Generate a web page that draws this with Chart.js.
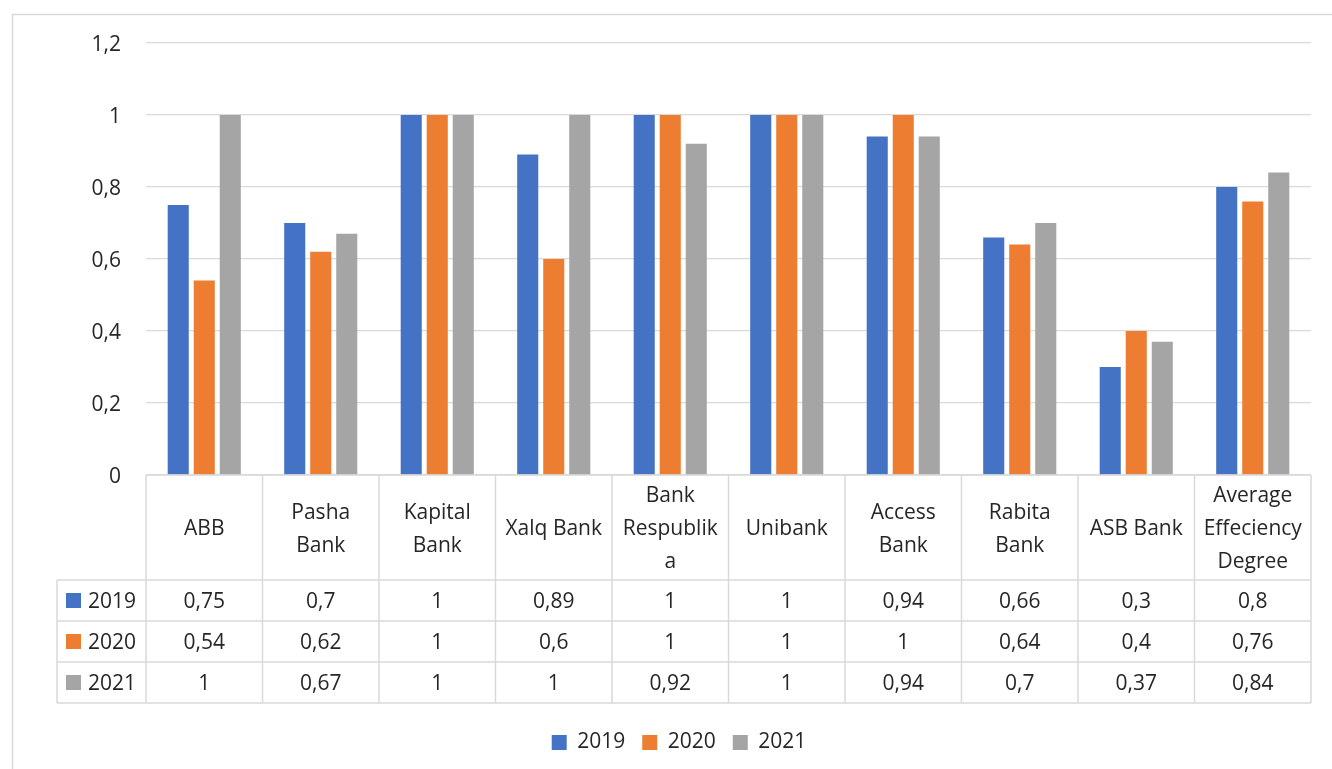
<!DOCTYPE html>
<html>
<head>
<meta charset="utf-8">
<script src="https://cdn.jsdelivr.net/npm/chart.js@4.4.1/dist/chart.umd.min.js"></script>
<style>
  html, body { margin: 0; padding: 0; background: #fff; }
  canvas { display: block; }
</style>
</head>
<body>
<canvas id="effChart" width="1332" height="769"></canvas>
<script>
// chart data
var categories = [
  'ABB',
  ['Pasha', 'Bank'],
  ['Kapital', 'Bank'],
  'Xalq Bank',
  ['Bank', 'Respublik', 'a'],
  'Unibank',
  ['Access', 'Bank'],
  ['Rabita', 'Bank'],
  'ASB Bank',
  ['Average', 'Effeciency', 'Degree']
];
var seriesNames = ['2019', '2020', '2021'];
var values2019 = [0.75, 0.7, 1, 0.89, 1, 1, 0.94, 0.66, 0.3, 0.8];
var values2020 = [0.54, 0.62, 1, 0.6, 1, 1, 1, 0.64, 0.4, 0.76];
var values2021 = [1, 0.67, 1, 1, 0.92, 1, 0.94, 0.7, 0.37, 0.84];
var yMin = 0;
var yMax = 1.2;
var yStep = 0.2;

var colors = ['#4472C4', '#ED7D31', '#A5A5A5'];
var lineColor = '#d9d9d9';
var textColor = '#262626';
var fontFamily = "'Open Sans', 'Noto Sans', sans-serif";

Chart.defaults.font.family = fontFamily;
Chart.defaults.font.size = 21;
Chart.defaults.color = textColor;

function fmt(v) {
  return String(Math.round(v * 100) / 100).replace('.', ',');
}

// white background + outer frame
var framePlugin = {
  id: 'frame',
  beforeDraw: function(chart) {
    var ctx = chart.ctx;
    ctx.save();
    ctx.fillStyle = '#fff';
    ctx.fillRect(0, 0, chart.width, chart.height);
    ctx.strokeStyle = lineColor;
    ctx.lineWidth = 1.5;
    ctx.strokeRect(12.5, 14.5, chart.width + 20, chart.height + 20);
    ctx.restore();
  },
  afterLayout: function(chart) {
    // center legend under table, like Excel
    chart.legend.left = 47;
    chart.legend.right = chart.chartArea.right;
  }
};

// data table drawn under the plot, aligned to the category scale
var tablePlugin = {
  id: 'dataTable',
  afterDraw: function(chart) {
    var ctx = chart.ctx;
    var xs = chart.scales.x;
    var area = chart.chartArea;
    var n = chart.data.labels.length;
    var colW = (area.right - area.left) / n;
    var top = area.bottom;
    var headH = 105;
    var rowH = 41;
    var leftEdge = 57;
    var bottom = top + headH + rowH * 3;
    var dy = 2; // text baseline nudge

    ctx.save();
    ctx.strokeStyle = lineColor;
    ctx.lineWidth = 1.5;
    ctx.beginPath();
    // horizontal lines
    ctx.moveTo(area.left, top);
    ctx.lineTo(area.right, top);
    for (var r = 0; r <= 3; r++) {
      var y = top + headH + r * rowH;
      ctx.moveTo(leftEdge, y);
      ctx.lineTo(area.right, y);
    }
    // vertical lines
    ctx.moveTo(leftEdge, top + headH);
    ctx.lineTo(leftEdge, bottom);
    for (var c = 0; c <= n; c++) {
      var x = area.left + c * colW;
      ctx.moveTo(x, top);
      ctx.lineTo(x, bottom);
    }
    ctx.stroke();

    ctx.fillStyle = textColor;
    ctx.font = '21px ' + fontFamily;
    ctx.textAlign = 'center';
    ctx.textBaseline = 'middle';

    // header labels
    var lineH = 33;
    chart.data.labels.forEach(function(lab, i) {
      var lines = Array.isArray(lab) ? lab : [lab];
      var cx = xs.getPixelForValue(i);
      var cy = top + headH / 2 + dy;
      var y0 = cy - (lines.length - 1) * lineH / 2;
      lines.forEach(function(t, k) {
        ctx.fillText(t, cx, y0 + k * lineH);
      });
    });

    // value rows
    chart.data.datasets.forEach(function(ds, r) {
      var cy = top + headH + r * rowH + rowH / 2;
      ctx.fillStyle = ds.backgroundColor;
      ctx.fillRect(66, cy - 7.5, 15, 15);
      ctx.fillStyle = textColor;
      ctx.textAlign = 'left';
      ctx.fillText(ds.label, 88, cy + dy);
      ctx.textAlign = 'center';
      ds.data.forEach(function(v, i) {
        ctx.fillText(fmt(v), xs.getPixelForValue(i), cy + dy);
      });
    });
    ctx.restore();
  }
};

var allValues = [values2019, values2020, values2021];
var datasets = seriesNames.map(function(name, i) {
  return {
    label: name,
    data: allValues[i],
    backgroundColor: colors[i],
    borderWidth: 0,
    categoryPercentage: 0.67,
    barPercentage: 0.81
  };
});

var chart = new Chart(document.getElementById('effChart'), {
  type: 'bar',
  data: { labels: categories, datasets: datasets },
  options: {
    responsive: false,
    animation: false,
    layout: { padding: { left: 0, right: 21, top: 43, bottom: 6 } },
    plugins: {
      tooltip: { enabled: false },
      legend: {
        position: 'bottom',
        labels: { boxWidth: 15, boxHeight: 15, padding: 17, color: textColor }
      }
    },
    scales: {
      x: {
        grid: { display: false },
        border: { display: false },
        ticks: { display: false },
        afterFit: function(scale) { scale.height = 240; }
      },
      y: {
        min: yMin,
        max: yMax,
        grid: { color: lineColor, lineWidth: 1.2, drawTicks: false },
        border: { display: false },
        ticks: {
          stepSize: yStep,
          padding: 25,
          labelOffset: 2,
          color: textColor,
          callback: function(v) { return fmt(v); }
        },
        afterFit: function(scale) { scale.width = 146; }
      }
    }
  },
  plugins: [framePlugin, tablePlugin]
});
</script>
</body>
</html>
